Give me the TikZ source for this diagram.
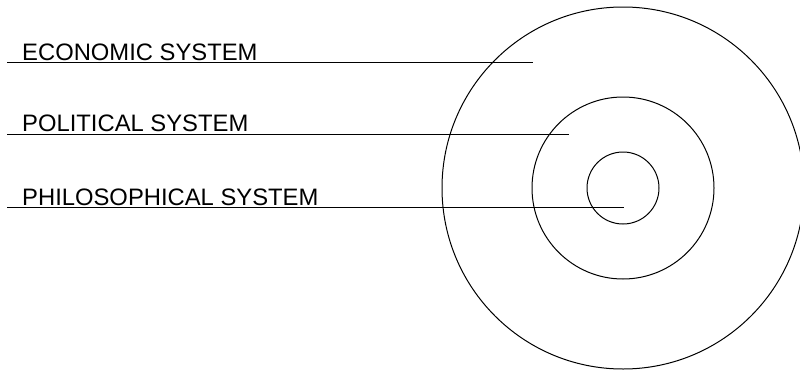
\documentclass[tikz,border=0pt]{standalone}
\usepackage{fontspec}
\setmainfont{Liberation Sans}
\begin{document}
\begin{tikzpicture}[x=1pt,y=-1pt,
  ring/.style={draw=black,line width=1pt},
  rule/.style={draw=black,line width=1pt},
  label/.style={anchor=base west,inner sep=0pt,font=\fontsize{23.8}{28}\selectfont}]
\useasboundingbox (0,0) rectangle (800,383);
\coordinate (c) at (623,188);
\draw[ring] (c) circle[radius=181];
\draw[ring] (c) circle[radius=91];
\draw[ring] (c) circle[radius=36];
\node[label] (eco) at (22,60) {ECONOMIC SYSTEM};
\node[label] (pol) at (22,131) {POLITICAL SYSTEM};
\node[label] (phi) at (22,205) {PHILOSOPHICAL SYSTEM};
\coordinate (e0) at (7,62);  \coordinate (e1) at (533,62);
\coordinate (p0) at (7,134); \coordinate (p1) at (569,134);
\coordinate (h0) at (7,207); \coordinate (h1) at (624,207);
\draw[rule] (e0) -- (e1);
\draw[rule] (p0) -- (p1);
\draw[rule] (h0) -- (h1);
\end{tikzpicture}
\end{document}
